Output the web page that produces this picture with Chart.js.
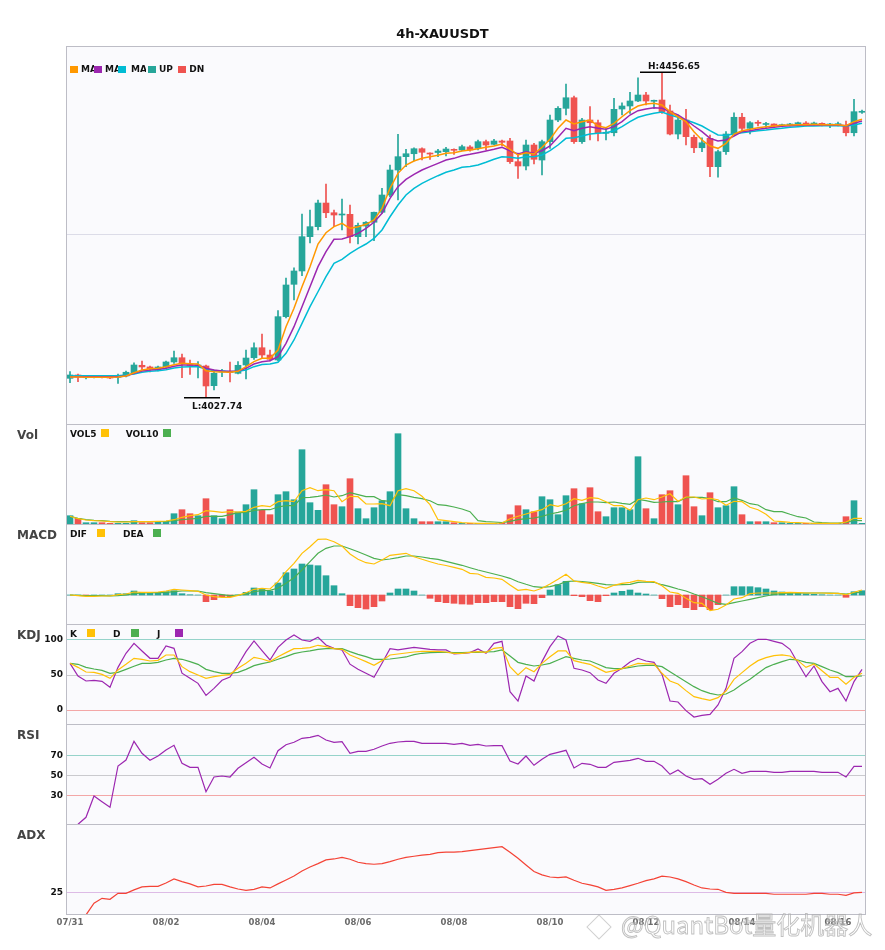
<!DOCTYPE html>
<html><head><meta charset="utf-8">
<script src="https://cdn.jsdelivr.net/npm/chart.js@4.4.1/dist/chart.umd.min.js"></script>
<style>
body{margin:0;background:#fff;}
#wrap{position:relative;width:885px;height:950px;overflow:hidden;font-family:'DejaVu Sans',sans-serif;background:#fff;}
canvas{position:absolute;left:0;}
.t{position:absolute;white-space:nowrap;font-weight:bold;}
.b{position:absolute;}
</style></head><body><div id="wrap"></div>
<script>
// ---------------- DATA ----------------
const dayLabels = ['07/31','08/01','08/02','08/03','08/04','08/05','08/06','08/07','08/08','08/09','08/10','08/11','08/12','08/13','08/14','08/15','08/16'];
const hourLabels = ['00:00','04:00','08:00','12:00','16:00','20:00'];

const openP = [4052.6,4057.0,4053.4,4054.4,4054.8,4054.4,4054.0,4055.7,4060.0,4069.8,
4067.6,4063.2,4068.0,4074.2,4079.8,4070.2,4068.9,4068.9,4042.9,4061.0,
4061.6,4059.2,4070.2,4079.8,4093.0,4083.4,4076.8,4134.0,4176.7,4194.3,
4239.6,4252.8,4284.0,4271.2,4268.2,4269.1,4239.6,4253.7,4258.6,4271.8,
4294.6,4327.6,4345.2,4349.1,4355.7,4350.0,4350.7,4351.8,4354.9,4354.0,
4358.0,4356.2,4365.0,4361.5,4365.9,4365.9,4338.6,4332.9,4360.6,4340.8,
4365.0,4393.6,4409.0,4423.0,4365.0,4393.6,4390.0,4376.0,4376.8,4408.1,
4412.1,4418.7,4426.6,4418.3,4420.0,4405.5,4375.1,4393.6,4370.8,4357.0,
4369.4,4332.0,4351.8,4375.1,4397.2,4382.6,4390.6,4387.7,4388.3,4386.1,
4387.0,4388.7,4389.2,4388.3,4388.7,4387.0,4387.4,4386.6,4376.8,4403.8];
const highP = [4061.4,4058.3,4056.1,4055.7,4055.7,4055.7,4058.3,4062.3,4073.2,4075.5,
4068.9,4068.9,4075.5,4088.7,4084.7,4076.8,4074.6,4070.2,4063.6,4064.5,
4074.2,4074.6,4090.0,4099.6,4111.1,4090.0,4141.9,4185.0,4198.6,4269.5,
4274.8,4288.0,4309.1,4274.8,4289.3,4281.4,4257.6,4259.4,4272.2,4303.4,
4334.2,4374.7,4354.9,4357.0,4357.0,4350.4,4354.9,4357.6,4355.7,4360.6,
4359.7,4367.2,4367.2,4368.1,4367.2,4369.4,4350.0,4367.2,4362.8,4367.2,
4400.2,4411.2,4441.1,4425.3,4395.8,4411.2,4393.6,4382.6,4422.2,4416.4,
4430.2,4449.4,4430.2,4420.0,4456.65,4413.4,4400.2,4407.7,4373.8,4370.2,
4373.8,4354.0,4378.2,4403.2,4402.4,4391.4,4392.7,4390.6,4388.7,4388.3,
4389.2,4391.0,4391.4,4391.0,4390.0,4389.2,4391.0,4392.3,4420.9,4406.8];
const lowP = [4046.8,4048.2,4051.7,4053.0,4053.0,4052.1,4046.0,4054.4,4058.3,4063.6,
4061.0,4062.3,4065.8,4072.4,4053.4,4057.9,4053.0,4027.74,4037.2,4054.8,
4047.8,4058.3,4051.7,4077.7,4079.4,4075.5,4075.5,4132.2,4156.0,4188.1,
4231.2,4248.4,4264.6,4252.8,4248.4,4231.2,4229.9,4239.6,4234.3,4270.4,
4292.4,4288.0,4332.0,4339.5,4340.8,4341.7,4345.2,4346.1,4348.3,4353.1,
4352.3,4354.0,4354.0,4360.6,4359.3,4336.4,4316.6,4327.6,4335.5,4321.0,
4356.2,4391.4,4400.2,4362.8,4362.8,4367.2,4365.9,4367.2,4372.5,4400.2,
4402.4,4417.8,4413.4,4409.0,4402.4,4373.8,4368.5,4360.6,4350.4,4351.8,
4318.8,4318.0,4348.3,4373.8,4378.2,4375.1,4385.7,4383.4,4383.4,4384.4,
4385.7,4386.6,4385.7,4386.6,4385.7,4383.4,4385.7,4372.5,4372.5,4402.4];
const closeP = [4057.0,4054.4,4055.3,4055.0,4054.0,4053.0,4056.6,4060.6,4070.2,4067.6,
4065.3,4067.6,4074.2,4079.8,4071.5,4069.5,4069.5,4042.5,4059.2,4062.3,
4060.3,4069.8,4079.4,4093.0,4083.4,4077.7,4134.0,4175.8,4194.3,4239.6,
4252.8,4284.0,4271.2,4268.2,4269.1,4239.6,4254.6,4258.6,4271.8,4294.6,
4327.6,4345.2,4349.1,4355.7,4351.0,4348.7,4352.7,4355.3,4353.6,4358.4,
4354.0,4365.0,4360.6,4365.9,4364.2,4338.6,4332.9,4360.6,4341.7,4365.0,
4393.6,4409.0,4423.0,4365.0,4393.6,4390.0,4376.8,4377.4,4407.7,4412.1,
4418.7,4426.6,4418.7,4419.6,4404.6,4375.1,4393.6,4371.6,4357.0,4363.6,
4332.0,4351.8,4375.1,4397.2,4382.6,4390.0,4389.2,4388.7,4385.7,4387.0,
4388.3,4389.6,4388.3,4389.0,4387.9,4387.7,4388.3,4376.8,4404.6,4404.8];

const ma5 = [4054.4,4054.4,4054.0,4054.0,4054.0,4054.0,4054.4,4055.7,4060.0,4063.6,
4065.3,4065.8,4068.0,4070.6,4072.4,4071.9,4071.5,4062.7,4061.4,4061.0,
4060.6,4061.9,4068.0,4074.6,4079.0,4079.0,4090.0,4120.8,4145.0,4173.6,
4200.0,4229.9,4244.8,4252.8,4257.2,4250.6,4252.8,4255.9,4261.6,4277.0,
4303.4,4323.2,4334.2,4339.5,4343.0,4345.2,4347.0,4349.6,4350.4,4352.7,
4354.0,4355.7,4357.6,4359.3,4361.9,4354.9,4347.4,4350.4,4348.7,4357.6,
4368.1,4382.6,4393.6,4388.3,4391.4,4393.6,4385.7,4383.4,4389.2,4397.9,
4405.9,4412.1,4414.7,4415.6,4413.4,4404.6,4397.9,4391.4,4378.2,4367.2,
4359.3,4356.2,4362.8,4375.1,4379.5,4381.3,4383.4,4384.8,4385.7,4386.6,
4387.0,4387.4,4387.4,4387.9,4387.4,4387.4,4387.4,4386.1,4391.4,4394.5];
const ma10 = [4054.8,4054.8,4054.8,4054.8,4054.8,4054.8,4054.8,4055.7,4059.2,4062.3,
4063.6,4064.5,4065.8,4068.5,4070.2,4070.2,4069.8,4065.8,4063.6,4062.3,
4061.9,4062.3,4065.8,4071.5,4074.6,4075.9,4081.2,4098.8,4120.8,4147.2,
4173.6,4200.0,4219.8,4236.1,4236.5,4239.6,4244.0,4250.6,4258.6,4270.4,
4290.2,4305.6,4315.3,4321.9,4327.6,4332.0,4336.4,4340.8,4343.0,4346.5,
4348.3,4350.4,4352.7,4354.9,4357.6,4353.1,4348.7,4351.8,4349.6,4353.1,
4359.3,4370.8,4382.6,4379.5,4382.6,4384.8,4382.6,4381.3,4384.8,4391.4,
4400.2,4405.9,4408.1,4409.8,4409.0,4404.6,4400.2,4393.6,4385.7,4378.2,
4369.4,4365.9,4367.2,4372.5,4378.2,4379.5,4381.3,4382.6,4384.0,4385.3,
4386.1,4386.6,4386.6,4387.0,4387.0,4387.0,4387.0,4386.1,4389.2,4392.3];
const ma20 = [4055.7,4056.1,4056.1,4056.1,4056.1,4056.1,4056.1,4057.0,4058.3,4060.6,
4061.9,4062.7,4064.0,4066.2,4067.6,4068.0,4068.0,4064.9,4062.7,4062.3,
4061.4,4061.9,4063.6,4068.0,4070.9,4071.5,4073.8,4085.6,4103.2,4125.2,
4147.2,4166.9,4186.8,4204.4,4209.7,4217.6,4224.2,4229.9,4237.4,4248.4,
4265.9,4281.4,4294.6,4303.4,4310.0,4315.3,4320.1,4324.6,4327.6,4331.2,
4332.2,4334.2,4337.8,4341.7,4345.2,4344.4,4343.0,4345.2,4345.2,4347.4,
4353.1,4360.6,4369.4,4370.2,4372.5,4375.1,4376.0,4376.8,4379.5,4384.8,
4391.4,4397.2,4400.2,4402.4,4404.2,4400.2,4397.2,4393.6,4390.0,4385.7,
4379.5,4373.8,4373.4,4375.1,4376.8,4378.2,4379.5,4380.4,4381.7,4382.6,
4384.0,4384.8,4385.7,4385.7,4386.1,4386.1,4386.1,4385.7,4387.0,4389.2];

const volume = [8.3,5.7,1.3,1.3,1.3,0.7,0.7,0.7,3.3,1.3,
1.3,1.7,2.7,10.3,14.3,10.3,8.3,25.3,8.3,5.3,
14.3,12,19.3,34.3,13.7,9.3,29.3,32.3,24.3,74.3,
21.3,13.7,39.3,19.3,17.3,45.3,15.3,5.3,16.3,23.3,
32.3,90.3,15.3,5.3,2.3,2.3,2.3,2.3,1.3,0.7,
0.7,0.7,0.7,0.7,0.7,9.3,18.3,14.3,12.3,27.3,
24.3,9.3,28.3,35.3,20.3,36.3,12.3,7.3,16.3,16.3,
14.3,67.3,15.3,5.3,29.3,33.3,19.3,48.3,17.3,8.3,
31.3,16.3,18.3,37.3,9.3,2.3,2.3,2.3,1.3,1.3,
0.7,0.7,0.7,0.7,0.7,0.7,0.7,7.3,23.3,0.7];
const vol5 = [7.7,5.3,4,3.3,3,2.3,2,2,2.3,2.3,
2.3,2.7,3,4.3,6.7,8.3,9.3,13.3,12.7,11.7,
12.3,12,12.7,16.7,18.3,17.3,22.3,23.3,22.3,33.3,
36.3,33.3,34.3,33.3,22.3,27.7,27.3,20,20,20.3,
18.3,33.3,35.3,33.3,27.7,19.3,4.3,3.3,2.3,1.3,
1,0.7,0.7,0.7,1,5.3,7.7,10,12.3,14.3,
19.3,17.7,20.3,25.3,23.7,26.3,25.7,22.3,18.3,18.3,
13.7,24.3,26,24.3,27,30.3,22.7,27,27,25,
25.7,24.3,18.7,22.7,22.3,16.7,14.3,9.7,3,2.3,
1.7,1.3,1,0.7,0.7,0.7,0.7,2,5.7,5.7];
const vol10 = [7.7,5.7,4.3,3.7,3.3,2.7,2.3,2.3,2.3,2.3,
2.3,2.5,2.7,3.3,4.3,5,5.7,7.7,7.7,7.7,
9.3,11.3,11.7,13.7,14.3,14.3,17,18.3,18.3,26.3,
26.7,27.7,29,27,28.3,31.3,29.3,27.3,27.3,23.3,
22.7,29.3,28.3,26.7,25.3,23.3,19.3,18.7,17,15,
12.3,3.3,2.3,2,1.3,2.7,4.3,5.3,6,7.7,
10,11.7,13.7,18.3,20.3,22,22,21.3,22,20.7,
19.7,24.7,23.3,21.7,22,22.7,22.3,26.3,26.7,26.7,
25.3,22.3,22.3,26,23.7,20.3,19,14.3,12.3,12.3,
9.7,7.3,6,2,1.3,1,1,1.3,3.7,3.3];

const dif = [0,-0.7,-1.3,-1.3,-1,-1,0.3,1,3,2.7,
2.7,3,4,5.7,5,4.3,3.7,0,-1.7,-2.3,
-2.3,-0.3,2.3,5.7,6.7,6,13.3,23.3,31.7,41.7,
48.3,55.7,56,53.3,49,41,35.7,32.3,31,35,
39.7,40.7,41.7,38.3,35.7,33.3,31,29.5,27.7,25.7,
21.7,21,17.7,17,15.7,10,4.7,5.7,4,6.7,
11,15.7,20.7,14,12.7,11.7,9,6.7,9.7,11.7,
12.7,14.7,13.7,13.3,9.3,3,1.7,-3.3,-7.7,-8.3,
-15.7,-14.3,-10,-4,-2.7,1.3,2,2,2,2.3,
2.7,2.3,2,2,2,1.7,1.7,0.3,2.7,5];
const dea = [0,-0.3,-0.7,-0.7,-0.7,-1,-0.7,0,1.3,2,
2.3,2.3,2.7,3.3,4,4,4,2.3,1.3,0.3,
-0.7,0,0.7,3.3,4.3,4.7,7,11.7,17.3,25,
33.3,41.7,46.7,49,49,46.3,43.3,40,36.7,35,
36,37.3,39,39,38,36.7,35.7,33.7,31.7,29.7,
27.3,25,23,21,19,16.7,13.3,10.7,8.3,7.7,
8.3,10.3,13.3,14,13.3,12.7,11.7,10.3,10,10.3,
10.7,12.7,13,12.7,10.3,8.3,6,4,1,-1.7,
-5,-8.3,-9.3,-7.7,-6,-4.3,-2.7,-1,0.7,1.3,
2,2,2,2,2,2,1.7,1,2,3];
const macdHist = [0,0,-0.3,0,0,0,1.3,1.3,4,2.7,
2.3,2.7,3.3,4.3,1.3,0.3,0,-6.7,-4.7,-1.7,
-1.7,0,2.7,7,6,4,12,22.3,26,31,
30,29.3,19.3,9.3,1.3,-10.7,-12.7,-14,-11.7,-6,
2,6,6,4,0,-3.3,-6.7,-7.7,-8.3,-9,
-9.3,-7.7,-7.7,-6.7,-6.7,-11.7,-13.7,-8.3,-8.7,-2.7,
5,10.3,13.7,-0.7,-1.7,-5.7,-6.7,-0.7,2,3.7,
5,2,1,0,-3.7,-11.7,-9.7,-12.7,-14.7,-11.7,
-14.7,-9.7,0,8.3,8.3,8.3,7.3,6,4,3,
2.3,1.7,1.3,0.7,0.3,0,0,-2.3,3.3,4.3];

const kLine = [66.0,60.3,53.7,53.3,50.4,44.8,56.6,64.6,73.1,71.7,
69.3,70.2,77.8,77.8,61.3,54.2,49.5,44.8,47.1,49.0,
50.4,58.9,66.0,74.5,72.1,68.4,75.4,81.1,86.8,87.2,
88.2,91.5,89.6,86.8,85.8,77.8,73.1,68.4,63.2,69.8,
77.8,79.2,80.6,82.0,83.0,83.0,83.0,82.0,80.2,80.2,
81.6,82.5,81.6,87.2,88.6,61.3,49.5,59.9,54.2,66.0,
75.4,83.5,83.5,69.8,67.0,64.6,58.9,53.3,55.6,58.5,
62.2,66.0,65.1,65.1,51.9,41.0,36.8,27.4,18.9,16.0,
13.7,17.4,26.9,43.4,52.8,62.2,69.8,74.0,76.9,77.8,
76.4,69.8,60.3,65.1,55.6,46.2,46.2,36.3,46.2,51.9];
const dLine = [66.0,64.6,60.3,58.0,56.1,51.9,53.3,57.5,61.8,66.0,
66.0,67.4,70.7,73.1,71.7,68.4,64.6,57.5,54.2,51.9,
51.9,53.3,57.5,62.7,65.5,67.9,71.7,75.4,79.7,82.0,
83.5,85.8,86.8,86.8,86.8,82.5,78.7,75.4,71.7,71.7,
72.1,73.5,75.0,78.3,80.2,81.1,81.6,81.6,81.1,81.1,
81.6,81.6,82.0,82.5,84.9,76.4,67.4,64.6,62.2,63.6,
66.0,70.7,75.4,73.1,70.7,69.3,64.6,59.9,58.5,58.5,
60.3,62.2,63.2,63.2,61.3,54.2,47.1,40.1,33.0,27.3,
23.6,21.2,22.6,28.3,36.3,43.4,51.9,59.9,64.6,68.4,
71.7,70.7,67.4,66.0,61.3,56.6,52.8,47.1,47.1,48.1];
const jLine = [66.0,48.1,41.0,42.0,40.5,32.1,60.3,80.2,94.3,83.5,
73.1,73.1,90.5,87.2,52.0,44.8,37.7,20.7,30.6,42.0,
46.7,63.6,82.5,97.6,83.9,70.7,88.6,99.0,106.1,99.0,
97.1,102.8,91.9,87.2,84.9,64.8,57.5,51.9,46.2,66.0,
86.8,84.9,86.8,88.6,87.2,85.8,84.9,84.9,79.2,80.2,
81.1,86.3,80.2,94.3,97.1,25.9,12.7,48.1,41.0,68.4,
89.6,104.7,99.0,58.9,56.6,52.8,42.4,37.7,51.9,58.9,
67.9,73.1,69.3,67.4,50.4,12.7,11.3,-0.9,-9.9,-7.5,
-6.1,7.1,30.6,73.1,82.5,94.3,100.0,100.0,97.1,94.3,
85.8,66.0,47.1,62.2,40.1,25.9,30.6,12.7,40.1,57.5];

const rsi = [0,1,8,29.3,23.6,18,59.3,65.3,84,72,
65,69.3,75.3,80,62,58,58,33.6,48.3,49.3,
48.3,57,62.6,68,61.3,57.3,74.6,80.6,83,87,
88,90,85.3,83,83.6,72,74,74,76,79.3,
82,83.3,84,84,82,82,82,82,81,82,
80,81,79.3,79.6,79.6,64.3,61.3,69.3,60,66,
71,73,75,57.3,62,61,58,58,63,64,
65,67,64,64,59.3,51,55.3,49.3,46,46.6,
41,46,52,56,52,54,54,54,53,53,
54,54,54,54,53,53,53,48.3,59,59];
const adx = [9.9,9.9,9.9,17.7,21,20.3,24.3,24.3,26.6,28.6,
29,29,31.2,33.9,32.1,30.6,28.6,29.2,30.3,30.3,
28.6,27.2,26.3,27,28.6,27.9,30.6,33.2,35.9,39.2,
41.9,44.1,46.6,47.2,48.3,47,45,44.1,43.7,44.1,
45.4,47,48.3,49,49.7,50.3,51.4,51.7,51.7,52.1,
52.8,53.4,54.1,54.8,55.4,51.7,47.7,43.2,38.8,36.6,
35.2,34.8,35.2,33,31,29.9,28.6,26.3,27,27.9,
29.4,31,32.8,33.9,35.7,35.2,33.9,32.1,29.9,27.9,
27.2,27,25,24.3,24.3,24.3,24.3,24.3,23.7,23.7,
23.7,23.7,23.7,24.3,24.3,23.7,23.7,23,24.6,25];

// categories (4h bars)
const categories = [];
for (let i = 0; i < openP.length; i++) categories.push(dayLabels[Math.floor(i / 6)] + ' ' + hourLabels[i % 6]);

// ---------------- STYLE ----------------
const UP = '#26A69A', DN = '#EF5350';
const C_ORANGE = '#FF9800', C_PURPLE = '#9C27B0', C_CYAN = '#00BCD4', C_YEL = '#FFC107', C_GRN = '#4CAF50', C_ADX = '#F44336';
const G_HI = '#96D3CA', G_MID = '#CACACE', G_LO = '#F3A7A7';
Chart.defaults.font.family = "'DejaVu Sans', sans-serif";
const wrap = document.getElementById('wrap');
const AXW = 66, PADR = 19;

function addText(txt, x, y, size, color, extra) {
  const d = document.createElement('div');
  d.className = 't'; d.textContent = txt;
  d.style.left = x + 'px'; d.style.top = y + 'px';
  d.style.fontSize = size + 'px'; d.style.lineHeight = Math.round(size * 1.25) + 'px';
  d.style.color = color;
  if (extra) Object.assign(d.style, extra);
  wrap.appendChild(d); return d;
}
function addBox(x, y, w, h, color) {
  const d = document.createElement('div');
  d.className = 'b';
  Object.assign(d.style, {left: x + 'px', top: y + 'px', width: w + 'px', height: h + 'px', background: color});
  wrap.appendChild(d); return d;
}
// panel background, frame and coloured reference lines
function framePlugin(bottom, refLines) {
  return {
    id: 'frame',
    beforeDraw(c) {
      const a = c.chartArea, ctx = c.ctx;
      ctx.save(); ctx.fillStyle = '#FAFAFD';
      ctx.fillRect(a.left, a.top, a.right - a.left, a.bottom - a.top); ctx.restore();
    },
    beforeDatasetsDraw(c) {
      const a = c.chartArea, ctx = c.ctx, ys = c.scales.y;
      ctx.save(); ctx.lineWidth = 1;
      (refLines || []).forEach(([v, col]) => {
        const py = Math.round(ys.getPixelForValue(v)) + 0.5;
        ctx.strokeStyle = col; ctx.beginPath(); ctx.moveTo(a.left, py); ctx.lineTo(a.right, py); ctx.stroke();
      });
      ctx.restore();
    },
    afterDraw(c) {
      const a = c.chartArea, ctx = c.ctx;
      ctx.save(); ctx.strokeStyle = '#BDBDC6'; ctx.lineWidth = 1;
      ctx.beginPath();
      ctx.moveTo(a.left, a.top + 0.5); ctx.lineTo(a.right, a.top + 0.5);
      ctx.moveTo(a.left + 0.5, a.top); ctx.lineTo(a.left + 0.5, a.bottom);
      ctx.moveTo(a.right - 0.5, a.top); ctx.lineTo(a.right - 0.5, a.bottom);
      if (bottom) { ctx.moveTo(a.left, a.bottom - 0.5); ctx.lineTo(a.right, a.bottom - 0.5); }
      ctx.stroke(); ctx.restore();
    }
  };
}
function lineDs(data, color, w, order) {
  return {type: 'line', data, borderColor: color, borderWidth: w || 1.2, pointRadius: 0, tension: 0, fill: false, order: order || 1};
}
function mkChart(top, bottom, withX, datasets, y, extraPlugins) {
  const padTop = 10, padBot = withX ? 0 : 10, xh = 25;
  const h = (bottom - top) + padTop + (withX ? xh : padBot);
  const cv = document.createElement('canvas');
  cv.width = 885; cv.height = h;
  cv.style.top = (top - padTop) + 'px'; cv.style.width = '885px'; cv.style.height = h + 'px';
  wrap.appendChild(cv);
  const xScale = {
    type: 'category', offset: true, display: withX,
    grid: {display: false, drawTicks: false}, border: {display: false},
    ticks: {autoSkip: false, maxRotation: 0, minRotation: 0, padding: 3, color: '#6b6b6b',
            font: {size: 8.5, weight: 'bold'},
            callback: (v, i) => (i % 12 === 0 ? dayLabels[i / 6] : '')}
  };
  if (withX) xScale.afterFit = (s) => { s.height = xh; };
  const ref = y.ticks.map(v => [v, (y.colors && y.colors[v]) || null]).filter(r => r[1]);
  return new Chart(cv.getContext('2d'), {
    type: 'bar',
    data: {labels: categories, datasets},
    options: {
      responsive: false, animation: false,
      layout: {padding: {left: 0, right: PADR, top: padTop, bottom: padBot}},
      plugins: {legend: {display: false}, tooltip: {enabled: false}, title: {display: false}},
      scales: {
        x: xScale,
        y: {
          min: y.min, max: y.max,
          afterBuildTicks: (s) => { s.ticks = y.ticks.map(v => ({value: v})); },
          afterFit: (s) => { s.width = AXW; },
          grid: {display: false, drawTicks: false},
          border: {display: false},
          ticks: {display: !!y.labels, padding: 3, color: '#111', font: {size: 9, weight: 'bold'}}
        }
      }
    },
    plugins: [framePlugin(withX, ref)].concat(extraPlugins || [])
  });
}

// ---------------- MAIN (candles) ----------------
const candleColors = closeP.map((c, i) => (c >= openP[i] ? UP : DN));
const wicks = lowP.map((l, i) => [l, highP[i]]);
const bodies = openP.map((o, i) => [o, closeP[i]]);

const hlPlugin = {
  id: 'hl',
  afterDatasetsDraw(c) {
    const xs = c.scales.x, ys = c.scales.y, ctx = c.ctx;
    let hi = 0, lo = 0;
    for (let i = 1; i < highP.length; i++) { if (highP[i] > highP[hi]) hi = i; if (lowP[i] < lowP[lo]) lo = i; }
    ctx.save();
    ctx.strokeStyle = '#000'; ctx.lineWidth = 1.5; ctx.fillStyle = '#111';
    ctx.font = "bold 9px 'DejaVu Sans'"; ctx.textAlign = 'left'; ctx.textBaseline = 'alphabetic';
    const xh = xs.getPixelForValue(hi), yh = ys.getPixelForValue(highP[hi]);
    ctx.beginPath(); ctx.moveTo(xh - 22, yh); ctx.lineTo(xh + 14, yh); ctx.stroke();
    ctx.fillText('H:' + highP[hi].toFixed(2), xh - 14, yh - 3.5);
    const xl = xs.getPixelForValue(lo), yl = ys.getPixelForValue(lowP[lo]);
    ctx.beginPath(); ctx.moveTo(xl - 22, yl + 0.5); ctx.lineTo(xl + 14, yl + 0.5); ctx.stroke();
    ctx.fillText('L:' + lowP[lo].toFixed(2), xl - 14, yl + 12);
    ctx.restore();
  }
};

mkChart(46, 424, false, [
  lineDs(ma5, C_ORANGE, 1.5, 1),
  lineDs(ma10, C_PURPLE, 1.5, 1),
  lineDs(ma20, C_CYAN, 1.5, 1),
  {type: 'bar', data: bodies, backgroundColor: candleColors, barThickness: 6, grouped: false, minBarLength: 1, order: 2},
  {type: 'bar', data: wicks, backgroundColor: candleColors, barThickness: 1, grouped: false, order: 3}
], {min: 3992.3, max: 4491.3, ticks: [4243.1], colors: {4243.1: '#DCDCE8'}, labels: false}, [hlPlugin]);

// ---------------- VOL ----------------
mkChart(424, 524, false, [
  lineDs(vol5, C_YEL, 1.2, 1),
  lineDs(vol10, C_GRN, 1.2, 1),
  {type: 'bar', data: volume, backgroundColor: candleColors, barThickness: 6, grouped: false, order: 2}
], {min: 0, max: 100, ticks: [0], colors: {}, labels: false});

// ---------------- MACD ----------------
mkChart(524, 624, false, [
  lineDs(dif, C_YEL, 1.2, 1),
  lineDs(dea, C_GRN, 1.2, 1),
  {type: 'bar', data: macdHist, backgroundColor: macdHist.map(v => (v >= 0 ? UP : DN)), barThickness: 6, grouped: false, order: 2}
], {min: -29, max: 71, ticks: [0], colors: {0: '#D2D2D6'}, labels: false});

// ---------------- KDJ ----------------
mkChart(624, 724, false, [
  lineDs(kLine, C_YEL, 1.2, 1),
  lineDs(dLine, C_GRN, 1.2, 1),
  lineDs(jLine, C_PURPLE, 1.2, 1)
], {min: -19.8, max: 121.6, ticks: [0, 50, 100], colors: {0: G_LO, 50: G_MID, 100: G_HI}, labels: true});

// ---------------- RSI ----------------
mkChart(724, 824, false, [
  lineDs(rsi, C_PURPLE, 1.2, 1)
], {min: 1.3, max: 101.3, ticks: [30, 50, 70], colors: {30: G_LO, 50: G_MID, 70: G_HI}, labels: true});

// ---------------- ADX ----------------
mkChart(824, 915, true, [
  lineDs(adx, C_ADX, 1.2, 1)
], {min: 9.87, max: 70.5, ticks: [25], colors: {25: '#DDBBE6'}, labels: true});

// ---------------- TEXTS ----------------
addText('4h-XAUUSDT', 0, 26, 13, '#111', {width: '885px', textAlign: 'center'});

// main legend (box then label; labels squeezed by following box)
const mainLegend = [['MA5', C_ORANGE, 70, 81, 13], ['MA10', C_PURPLE, 94.3, 105, 13], ['MA20', C_CYAN, 118.3, 131, 15], ['UP', UP, 148.3, 159, 0], ['DN', DN, 178.3, 189.3, 0]];
mainLegend.forEach(([t, c, bx, tx, w]) => {
  addBox(bx, 65.7, 8, 7, c);
  const ex = w ? {width: w + 'px', overflow: 'hidden'} : null;
  addText(t, tx, 63.5, 9, '#111', ex);
});

// panel titles
[['Vol', 427.5], ['MACD', 527.5], ['KDJ', 627.5], ['RSI', 727.5], ['ADX', 828]].forEach(([t, y]) => addText(t, 17, y, 12, '#444'));

// sub legends (label then box)
const subLegends = [
  [428.5, [['VOL5', 70, C_YEL, 101], ['VOL10', 125.7, C_GRN, 162.7]]],
  [528.5, [['DIF', 70, C_YEL, 97.3], ['DEA', 123, C_GRN, 153]]],
  [628.5, [['K', 70, C_YEL, 87], ['D', 113, C_GRN, 131], ['J', 157, C_PURPLE, 175]]]
];
subLegends.forEach(([y, items]) => items.forEach(([t, tx, c, bx]) => { addText(t, tx, y, 9, '#111'); addBox(bx, y + 0.8, 8, 7.7, c); }));

// watermark
const wm = document.createElement('div');
Object.assign(wm.style, {position: 'absolute', left: '590px', top: '918px', width: '16px', height: '16px',
  border: '1.5px solid rgba(170,170,170,0.55)', transform: 'rotate(45deg)', zIndex: 5});
wrap.appendChild(wm);
addText('@QuantBot量化机器人', 621, 909, 24, 'rgba(255,255,255,0.35)',
  {fontWeight: 'normal', fontFamily: "'Noto Sans CJK SC', sans-serif", WebkitTextStroke: '0.9px rgba(165,165,165,0.7)', zIndex: 6});
</script>
</body></html>
